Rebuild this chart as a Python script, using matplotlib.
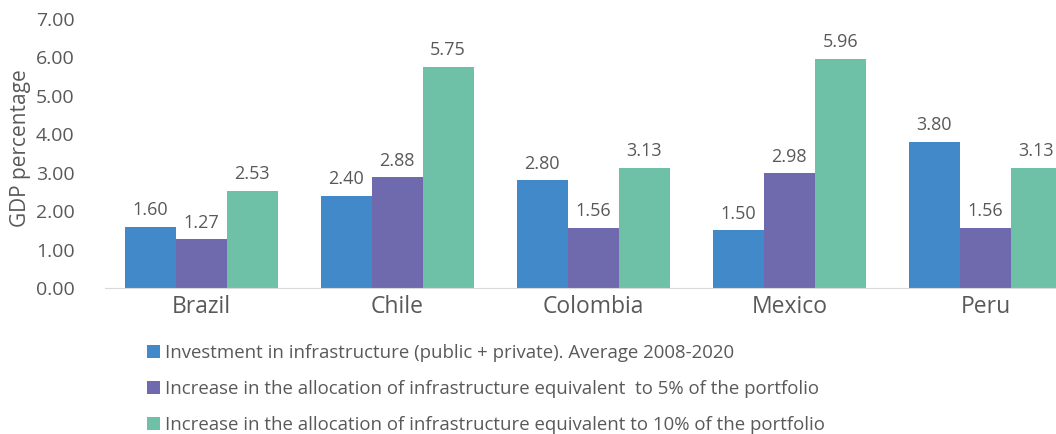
import numpy as np
import matplotlib.pyplot as plt

countries = ['Brazil', 'Chile', 'Colombia', 'Mexico', 'Peru']
investment = [1.60, 2.40, 2.80, 1.50, 3.80]
alloc_5 = [1.27, 2.88, 1.56, 2.98, 1.56]
alloc_10 = [2.53, 5.75, 3.13, 5.96, 3.13]
series_names = ['Investment in infrastructure (public + private). Average 2008-2020',
                'Increase in the allocation of infrastructure equivalent  to 5% of the portfolio',
                'Increase in the allocation of infrastructure equivalent to 10% of the portfolio']
colors = ['#4189C8', '#6E6AAD', '#6EC1A7']

plt.rcParams['font.family'] = ['Open Sans', 'DejaVu Sans']
txt = '#595959'

fig = plt.figure(figsize=(10.56, 4.34), dpi=100)
ax = fig.add_axes([105/1056, 146/434, (1056-105)/1056, 269/434])

x = np.arange(len(countries))
w = 0.26
for i, vals in enumerate([investment, alloc_5, alloc_10]):
    bars = ax.bar(x + (i-1)*w, vals, w, color=colors[i], label=series_names[i])
    for b, v in zip(bars, vals):
        ax.text(b.get_x() + b.get_width()/2, v + 0.2, f'{v:.2f}',
                ha='center', va='bottom', fontsize=13, color=txt)

ax.set_xlim(-0.49, 4.36)
ax.set_ylim(0, 7)
ax.set_yticks(np.arange(0, 8, 1))
ax.set_yticklabels([f'{v:.2f}' for v in range(8)])
ax.set_xticks(x)
ax.set_xticklabels(countries)
ax.tick_params(axis='y', length=0, labelsize=14, labelcolor=txt, pad=22)
ax.tick_params(axis='x', length=0, labelsize=16.5, labelcolor=txt, pad=5)
for s in ['top', 'right', 'left']:
    ax.spines[s].set_visible(False)
ax.spines['bottom'].set_color('#D9D9D9')
ax.set_ylabel('GDP percentage', fontsize=15, color=txt)
ax.yaxis.set_label_coords(-0.078, 0.52)

fig.legend(loc='upper left', bbox_to_anchor=(140/1056, 1 - 337/434), frameon=False,
           fontsize=13.4, labelcolor=txt, handlelength=0.7, handleheight=0.7,
           handletextpad=0.25, labelspacing=0.95, borderaxespad=0)

fig.savefig('out.png', dpi=100)
